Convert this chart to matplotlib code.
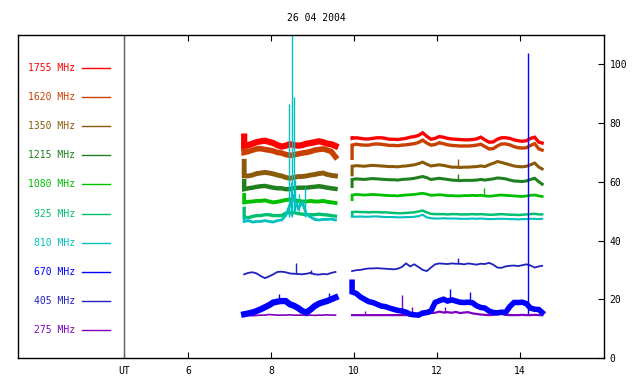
import matplotlib
matplotlib.use('Agg')
import matplotlib.pyplot as plt

plt.rcParams['font.family'] = ['DejaVu Sans Mono']

title = '26 04 2004'

labels = ['1755 MHz', '1620 MHz', '1350 MHz', '1215 MHz', '1080 MHz',
          '925 MHz', '810 MHz', '670 MHz', '405 MHz', '275 MHz']
colors = ['#ff0000', '#c84000', '#8b5a08', '#208020', '#00c000',
          '#00c070', '#00c0c0', '#0000ff', '#2020c0', '#8000c0']

xtick_pos = [4.46, 6, 8, 10, 12, 14]
xtick_lab = ['UT', '6', '8', '10', '12', '14']
ytick_pos = [0, 20, 40, 60, 80, 100]

# time (UT hours); first entry repeated for the start transient
T1 = [7.35, 7.35, 7.45, 7.55, 7.65, 7.75, 7.85, 7.95, 8.05, 8.15, 8.25, 8.35,
      8.45, 8.55, 8.65, 8.75, 8.85, 8.95, 9.05, 9.15, 9.25, 9.35, 9.45, 9.55]
T2 = [9.95, 9.95, 10.05, 10.15, 10.25, 10.35, 10.45, 10.55, 10.65, 10.75, 10.85,
      10.95, 11.05, 11.15, 11.25, 11.35, 11.45, 11.55, 11.65, 11.75, 11.85,
      11.95, 12.05, 12.15, 12.25, 12.35, 12.45, 12.55, 12.65, 12.75, 12.85,
      12.95, 13.05, 13.15, 13.25, 13.35, 13.45, 13.55, 13.65, 13.75, 13.85,
      13.95, 14.05, 14.15, 14.25, 14.35, 14.45, 14.53]

f1755_a = [75.4, 72.0, 72.5, 73.0, 73.5, 73.8, 74.0, 73.6, 73.2, 72.5, 72.0, 72.3,
           72.8, 72.5, 72.3, 72.5, 73.0, 73.2, 73.5, 73.8, 73.5, 73.0, 72.8, 72.2]
f1620_a = [70.5, 70.0, 70.3, 70.8, 71.2, 71.3, 71.0, 70.8, 70.5, 70.0, 69.8, 69.3,
           69.0, 69.2, 69.5, 69.8, 70.0, 70.3, 70.8, 71.0, 71.2, 70.8, 70.3, 68.5]
f1350_a = [67.0, 62.0, 62.0, 62.3, 62.8, 63.0, 63.2, 63.0, 62.7, 62.3, 62.0, 61.5,
           61.2, 61.5, 61.8, 61.8, 62.0, 62.3, 62.5, 62.8, 63.0, 62.5, 62.2, 62.0]
f1215_a = [60.2, 57.5, 57.8, 58.0, 58.3, 58.5, 58.6, 58.3, 58.0, 57.8, 57.8, 57.5,
           57.5, 57.8, 58.0, 58.0, 58.0, 58.2, 58.3, 58.5, 58.3, 58.0, 57.8, 57.6]
f1080_a = [55.5, 53.0, 53.2, 53.3, 53.5, 53.5, 53.7, 53.3, 53.0, 53.2, 53.5, 53.8,
           54.0, 53.8, 53.5, 53.3, 53.3, 53.5, 53.3, 53.3, 53.5, 53.2, 53.0, 52.8]
f925_a = [51.0, 48.0, 47.8, 48.2, 48.5, 48.5, 48.8, 48.8, 48.5, 48.5, 48.5, 49.3,
          49.5, 49.5, 49.2, 49.0, 48.8, 48.8, 48.8, 49.0, 48.8, 48.7, 48.5, 48.3]
f810_a = [47.5, 46.5, 46.8, 46.3, 46.5, 46.5, 46.8, 46.5, 46.3, 46.8, 47.0, 48.5,
          52.0, 55.0, 51.0, 53.0, 49.0, 48.0, 47.2, 47.0, 47.2, 47.2, 47.3, 47.0]
f670_a = [14.9, 14.9, 15.2, 15.5, 16.0, 16.6, 17.3, 18.0, 18.9, 19.2, 19.4, 19.4,
          18.3, 17.8, 17.0, 16.0, 15.5, 16.5, 17.7, 18.5, 19.0, 19.4, 20.0, 20.6]
f405_a = [28.5, 28.5, 29.0, 29.2, 28.8, 27.9, 27.2, 27.8, 28.5, 29.3, 29.4, 29.2,
          28.8, 28.7, 28.6, 28.5, 28.7, 29.0, 28.5, 28.4, 28.6, 28.5, 29.0, 29.3]
f275_a = [14.6, 14.6, 14.5, 14.4, 14.5, 14.6, 14.6, 14.8, 14.7, 14.6, 14.6, 14.6,
          14.7, 14.6, 14.6, 14.6, 14.5, 14.6, 14.5, 14.6, 14.6, 14.7, 14.6, 14.6]

f1755_b = [75.0, 74.8, 75.0, 74.8, 74.6, 74.6, 74.8, 75.0, 75.0, 74.8, 74.5,
           74.5, 74.4, 74.6, 74.8, 75.2, 75.4, 75.8, 76.7, 75.5, 74.5,
           74.8, 75.4, 75.2, 74.8, 74.6, 74.5, 74.4, 74.3, 74.3, 74.4,
           74.6, 75.2, 74.3, 73.5, 73.6, 74.5, 75.0, 75.0, 74.8, 74.3,
           74.0, 73.8, 74.0, 74.8, 75.2, 73.5, 73.2]
f1620_b = [68.0, 72.5, 72.8, 72.6, 72.5, 72.5, 72.8, 72.9, 72.8, 72.6, 72.4,
           72.4, 72.3, 72.5, 72.6, 72.8, 73.0, 73.4, 74.2, 73.2, 72.5,
           72.7, 73.3, 73.0, 72.6, 72.4, 72.3, 72.2, 72.2, 72.2, 72.3,
           72.5, 72.8, 72.0, 71.2, 71.3, 72.2, 72.9, 72.9, 72.6, 72.0,
           71.6, 71.5, 71.6, 72.4, 73.0, 71.2, 70.8]
f1350_b = [62.4, 65.3, 65.5, 65.4, 65.3, 65.5, 65.6, 65.5, 65.4, 65.3, 65.2,
           65.2, 65.1, 65.3, 65.4, 65.6, 65.8, 66.2, 66.7, 66.0, 65.4,
           65.6, 65.8, 65.6, 65.3, 65.0, 65.0, 64.9, 65.0, 65.0, 65.1,
           65.2, 65.4, 65.2, 65.8, 66.3, 66.9, 66.6, 66.2, 65.8, 65.4,
           65.2, 65.1, 65.3, 65.8, 66.4, 65.0, 64.4]
f1215_b = [58.4, 60.8, 61.0, 60.9, 60.8, 61.0, 61.1, 61.0, 60.9, 60.8, 60.7,
           60.7, 60.6, 60.8, 60.9, 61.0, 61.2, 61.5, 61.8, 61.4, 60.8,
           61.0, 61.2, 61.0, 60.8, 60.6, 60.5, 60.4, 60.5, 60.5, 60.5,
           60.6, 60.8, 60.6, 60.8, 61.0, 61.3, 61.2, 61.0, 60.6, 60.3,
           60.2, 60.1, 60.3, 60.8, 61.2, 60.0, 59.2]
f1080_b = [53.9, 55.5, 55.7, 55.6, 55.5, 55.6, 55.7, 55.6, 55.5, 55.4, 55.3,
           55.3, 55.2, 55.4, 55.5, 55.6, 55.7, 55.9, 56.1, 55.8, 55.4,
           55.5, 55.6, 55.5, 55.3, 55.3, 55.2, 55.2, 55.3, 55.3, 55.4,
           55.3, 55.4, 55.2, 55.1, 55.2, 55.4, 55.5, 55.4, 55.3, 55.2,
           55.1, 55.0, 55.2, 55.4, 55.5, 55.2, 55.0]
f925_b = [48.2, 49.7, 49.8, 49.7, 49.7, 49.6, 49.7, 49.7, 49.6, 49.6, 49.5,
          49.4, 49.3, 49.3, 49.4, 49.5, 49.6, 49.9, 50.2, 49.6, 49.1,
          49.0, 49.0, 49.0, 48.9, 49.0, 49.0, 48.9, 48.9, 48.9, 49.0,
          48.9, 49.0, 48.9, 48.8, 48.8, 48.9, 49.0, 48.9, 48.8, 48.8,
          48.7, 48.8, 48.9, 49.0, 49.1, 48.9, 48.9]
f810_b = [48.6, 48.2, 48.1, 48.2, 48.1, 48.1, 48.2, 48.2, 48.1, 48.0, 48.0,
          48.0, 47.9, 47.9, 48.0, 48.0, 48.1, 48.3, 48.8, 47.9, 47.6,
          47.5, 47.5, 47.6, 47.5, 47.5, 47.5, 47.4, 47.4, 47.4, 47.5,
          47.4, 47.5, 47.4, 47.3, 47.3, 47.4, 47.4, 47.4, 47.3, 47.3,
          47.2, 47.3, 47.3, 47.4, 47.4, 47.3, 47.4]
f670_b = [25.8, 22.5, 22.0, 20.8, 20.0, 19.2, 18.9, 18.3, 17.7, 17.5, 17.0,
          16.6, 16.2, 16.0, 15.6, 14.9, 14.7, 14.6, 15.3, 15.5, 16.0,
          18.9, 19.5, 20.0, 19.4, 19.8, 19.4, 19.0, 18.9, 19.0, 18.8,
          17.8, 17.2, 17.0, 16.0, 15.5, 15.4, 15.6, 15.5, 17.5, 18.9,
          18.9, 19.0, 18.5, 17.0, 16.6, 16.5, 15.5]
f405_b = [29.6, 29.6, 29.9, 30.0, 30.3, 30.5, 30.5, 30.6, 30.5, 30.4, 30.3,
          30.2, 30.4, 31.0, 32.2, 31.2, 31.9, 31.0, 30.0, 29.6, 30.8,
          31.9, 32.2, 32.1, 32.0, 32.2, 32.1, 32.1, 31.9, 32.2, 32.0,
          31.8, 32.1, 32.0, 32.4, 31.8, 30.8, 30.7, 31.2, 31.4, 31.5,
          31.3, 31.6, 31.9, 31.5, 30.8, 31.2, 31.4]
f275_b = [14.6, 14.6, 14.6, 14.6, 14.6, 14.6, 14.6, 14.6, 14.6, 14.6, 14.6,
          14.6, 14.6, 14.6, 14.6, 14.6, 14.6, 14.7, 14.8, 15.0, 15.3,
          15.4, 15.8, 15.5, 15.6, 15.4, 15.7, 15.3, 15.5, 15.6, 15.2,
          15.0, 14.8, 14.7, 14.6, 14.7, 14.9, 15.0, 14.7, 14.6, 14.6,
          14.6, 14.7, 14.6, 14.6, 14.7, 14.6, 14.6]

# short bursts: (time, low, high)
spikes_1350 = [(12.49, 64.9, 67.8)]
spikes_1215 = [(12.49, 60.2, 62.6)]
spikes_1080 = [(13.14, 55.2, 57.9)]
spikes_810 = [(8.42, 48.0, 86.4), (8.47, 48.5, 60.0), (8.51, 48.0, 112.0),
              (8.54, 50.0, 88.9), (8.58, 50.0, 60.7), (8.66, 50.0, 56.0),
              (8.82, 48.0, 58.4)]
spikes_670 = [(8.2, 19.0, 21.7), (9.4, 20.0, 22.0), (12.3, 19.4, 23.6),
              (12.78, 19.0, 22.5), (14.2, 15.0, 104.0)]
spikes_405 = [(8.6, 28.6, 32.4), (8.96, 28.7, 29.9), (12.49, 32.1, 34.1)]
spikes_275 = [(10.25, 14.6, 16.0), (11.16, 14.6, 21.4), (11.39, 14.6, 17.2),
              (12.19, 15.3, 17.2)]

series = [
    (f1755_a, f1755_b, [], 0, 4.5, 2.4),
    (f1620_a, f1620_b, [], 1, 4.0, 2.4),
    (f1350_a, f1350_b, spikes_1350, 2, 3.5, 2.2),
    (f1215_a, f1215_b, spikes_1215, 3, 3.2, 2.2),
    (f1080_a, f1080_b, spikes_1080, 4, 2.8, 2.0),
    (f925_a, f925_b, [], 5, 2.4, 1.8),
    (f810_a, f810_b, spikes_810, 6, 2.0, 1.5),
    (f405_a, f405_b, spikes_405, 8, 1.3, 1.3),
    (f275_a, f275_b, spikes_275, 9, 1.2, 1.6),
    (f670_a, f670_b, spikes_670, 7, 4.5, 4.0),
]

fig = plt.figure(figsize=(6.4, 3.84), dpi=100)
ax = fig.add_axes([18 / 640, 1 - 358 / 384, 586 / 640, 323 / 384])

for va, vb, spk, ci, lwa, lwb in series:
    c = colors[ci]
    ax.plot(T1, va, color=c, lw=lwa, solid_joinstyle='miter')
    ax.plot(T2, vb, color=c, lw=lwb, solid_joinstyle='miter')
    for t, lo, hi in spk:
        ax.vlines(t, lo, hi, color=c, lw=1)

# legend drawn inside the plot area
for i, (lab, c) in enumerate(zip(labels, colors)):
    yy = 98.8 - 9.92 * i
    ax.text(3.28, yy, lab, color=c, fontsize=7, ha='right', va='center')
    ax.plot([3.45, 4.12], [yy, yy], color=c, lw=1)

ax.axvline(4.46, color='#606060', lw=1)

ax.set_xlim(1.9, 16.02)
ax.set_ylim(0, 110)
ax.set_xticks(xtick_pos)
ax.set_xticklabels(xtick_lab)
ax.set_yticks(ytick_pos)
ax.yaxis.tick_right()
ax.tick_params(axis='x', direction='in', top=True, length=4, labelsize=7, pad=6)
ax.tick_params(axis='y', direction='in', left=False, right=True, length=4,
               labelsize=7, pad=4)
for s in ax.spines.values():
    s.set_linewidth(1)

fig.text(316 / 640, 1 - 18 / 384, title, fontsize=7, ha='center', va='center')

fig.savefig('out.png', dpi=100)
